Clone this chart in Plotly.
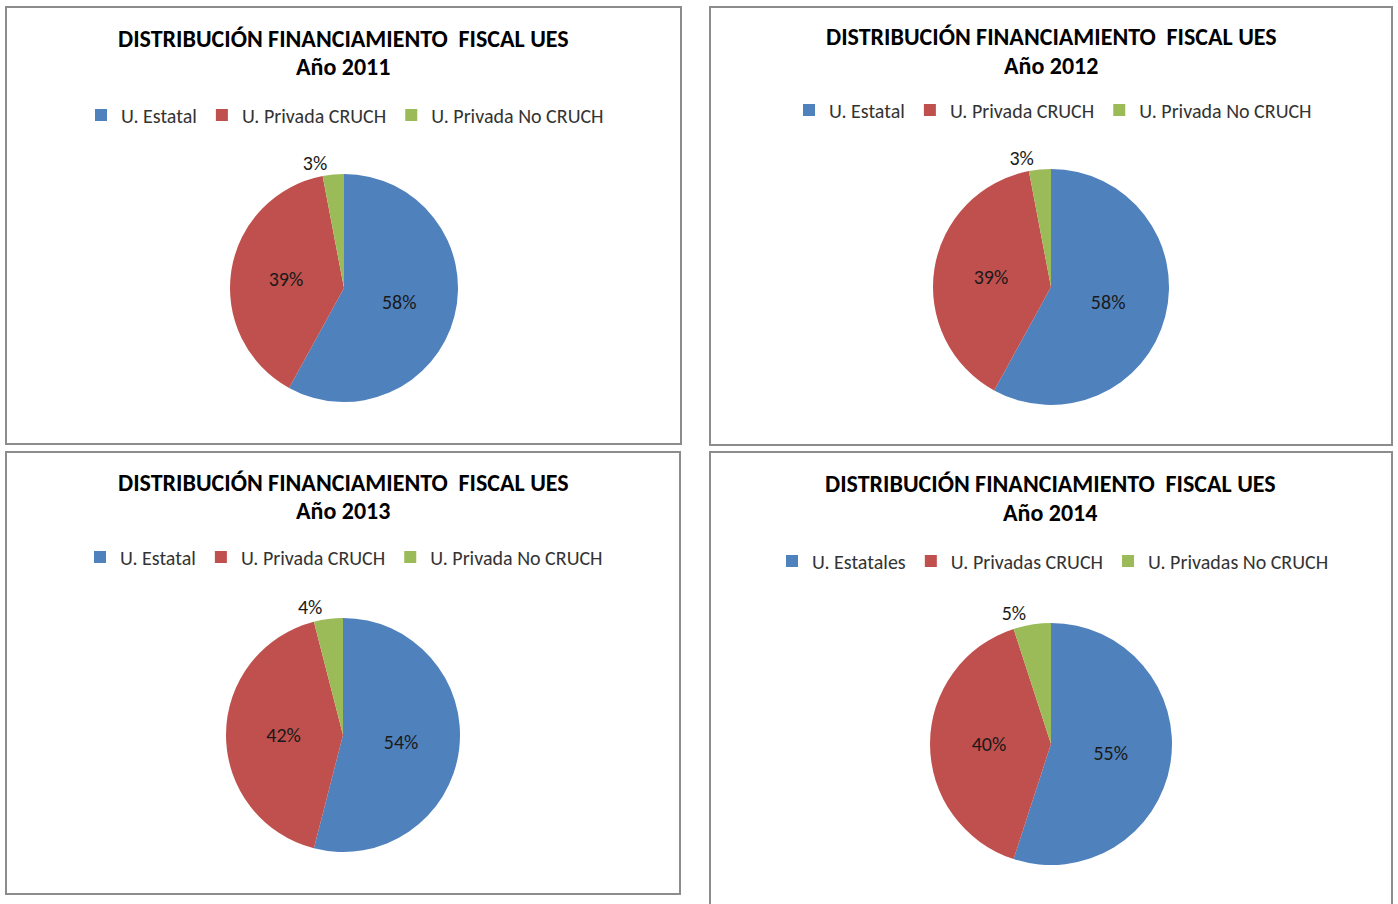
import plotly.graph_objects as go

# ---------------- data ----------------
categories_a = ["U. Estatal", "U. Privada CRUCH", "U. Privada No CRUCH"]
categories_b = ["U. Estatales", "U. Privadas CRUCH", "U. Privadas No CRUCH"]
years = ["2011", "2012", "2013", "2014"]
values_2011 = [58, 39, 3]
values_2012 = [58, 39, 3]
values_2013 = [54, 42, 4]
values_2014 = [55, 40, 5]
title_line1 = "DISTRIBUCIÓN FINANCIAMIENTO  FISCAL UES"

# ---------------- styling / layout ----------------
W, H = 1398, 904
colors = ["#4F81BD", "#C0504D", "#9BBB59"]
FONT = "Carlito, Lato, 'Liberation Sans Narrow', sans-serif"

panels = [
    # box (x0,y0,x1,y1), pie centre (cx,cy), r, title lines y, title x, legend centre (x,y)
    dict(box=(6, 7, 681, 444), c=(344, 288), r=114, tx=343, ty=(38, 67), lg=(345, 115)),
    dict(box=(710, 7, 1392, 445), c=(1051, 287), r=118, tx=1051, ty=(37, 65), lg=(1053, 110)),
    dict(box=(6, 452, 680, 894), c=(343, 735), r=117, tx=343, ty=(482, 511), lg=(344, 557)),
    dict(box=(710, 452, 1392, 920), c=(1051, 744), r=121, tx=1050, ty=(483, 512), lg=(1053, 561)),
]
series = [values_2011, values_2012, values_2013, values_2014]
labels = [categories_a, categories_a, categories_a, categories_b]


def px_x(x):
    return x / W


def px_y(y):
    return 1 - y / H


fig = go.Figure()
shapes, annotations = [], []
layout_legends = {}

for i, (p, vals, labs, yr) in enumerate(zip(panels, series, labels, years)):
    cx, cy = p["c"]
    r = p["r"]
    legname = "legend" if i == 0 else f"legend{i + 1}"
    # zero-width suffix keeps each panel's legend entries separate (same visible text)
    uniq_labels = [lab + "\u200b" * i for lab in labs]
    fig.add_trace(go.Pie(
        labels=uniq_labels,
        values=vals,
        sort=False,
        direction="clockwise",
        rotation=0,
        marker=dict(colors=colors, line=dict(width=0)),
        texttemplate="%{percent:.0%}",
        textposition=["inside", "inside", "outside"],
        insidetextorientation="horizontal",
        textfont=dict(family=FONT, size=20, color="#1a1a1a"),
        domain=dict(x=[px_x(cx - r), px_x(cx + r)], y=[px_y(cy + r), px_y(cy - r)]),
        legend=legname,
        showlegend=True,
        automargin=False,
        hovertemplate="%{label}: %{percent:.0%}<extra></extra>",
    ))
    x0, y0, x1, y1 = p["box"]
    shapes.append(dict(type="rect", xref="paper", yref="paper",
                       x0=px_x(x0), x1=px_x(x1), y0=px_y(y1), y1=px_y(y0),
                       line=dict(color="#8C8C8C", width=2), fillcolor="rgba(0,0,0,0)"))
    tx = p["tx"]
    for line_text, ly_ in zip([title_line1, f"Año {yr}"], p["ty"]):
        annotations.append(dict(x=px_x(tx), y=px_y(ly_), xref="paper", yref="paper",
                                xanchor="center", yanchor="middle", showarrow=False,
                                text=f"<b>{line_text}</b>",
                                font=dict(family=FONT, size=24, color="#000000")))
    lx, ly = p["lg"]
    layout_legends[legname] = dict(
        orientation="h", x=px_x(lx), y=px_y(ly), xanchor="center", yanchor="middle",
        font=dict(family=FONT, size=20, color="#333333"),
        bgcolor="rgba(0,0,0,0)", itemwidth=30, traceorder="normal",
        itemclick=False, itemdoubleclick=False,
    )

fig.update_layout(
    width=W, height=H,
    margin=dict(l=0, r=0, t=0, b=0),
    paper_bgcolor="white", plot_bgcolor="white",
    shapes=shapes, annotations=annotations,
    font=dict(family=FONT),
    **layout_legends,
)

fig.write_html("out.html", config={"displayModeBar": False},
               post_script="document.body.style.margin='0';")
